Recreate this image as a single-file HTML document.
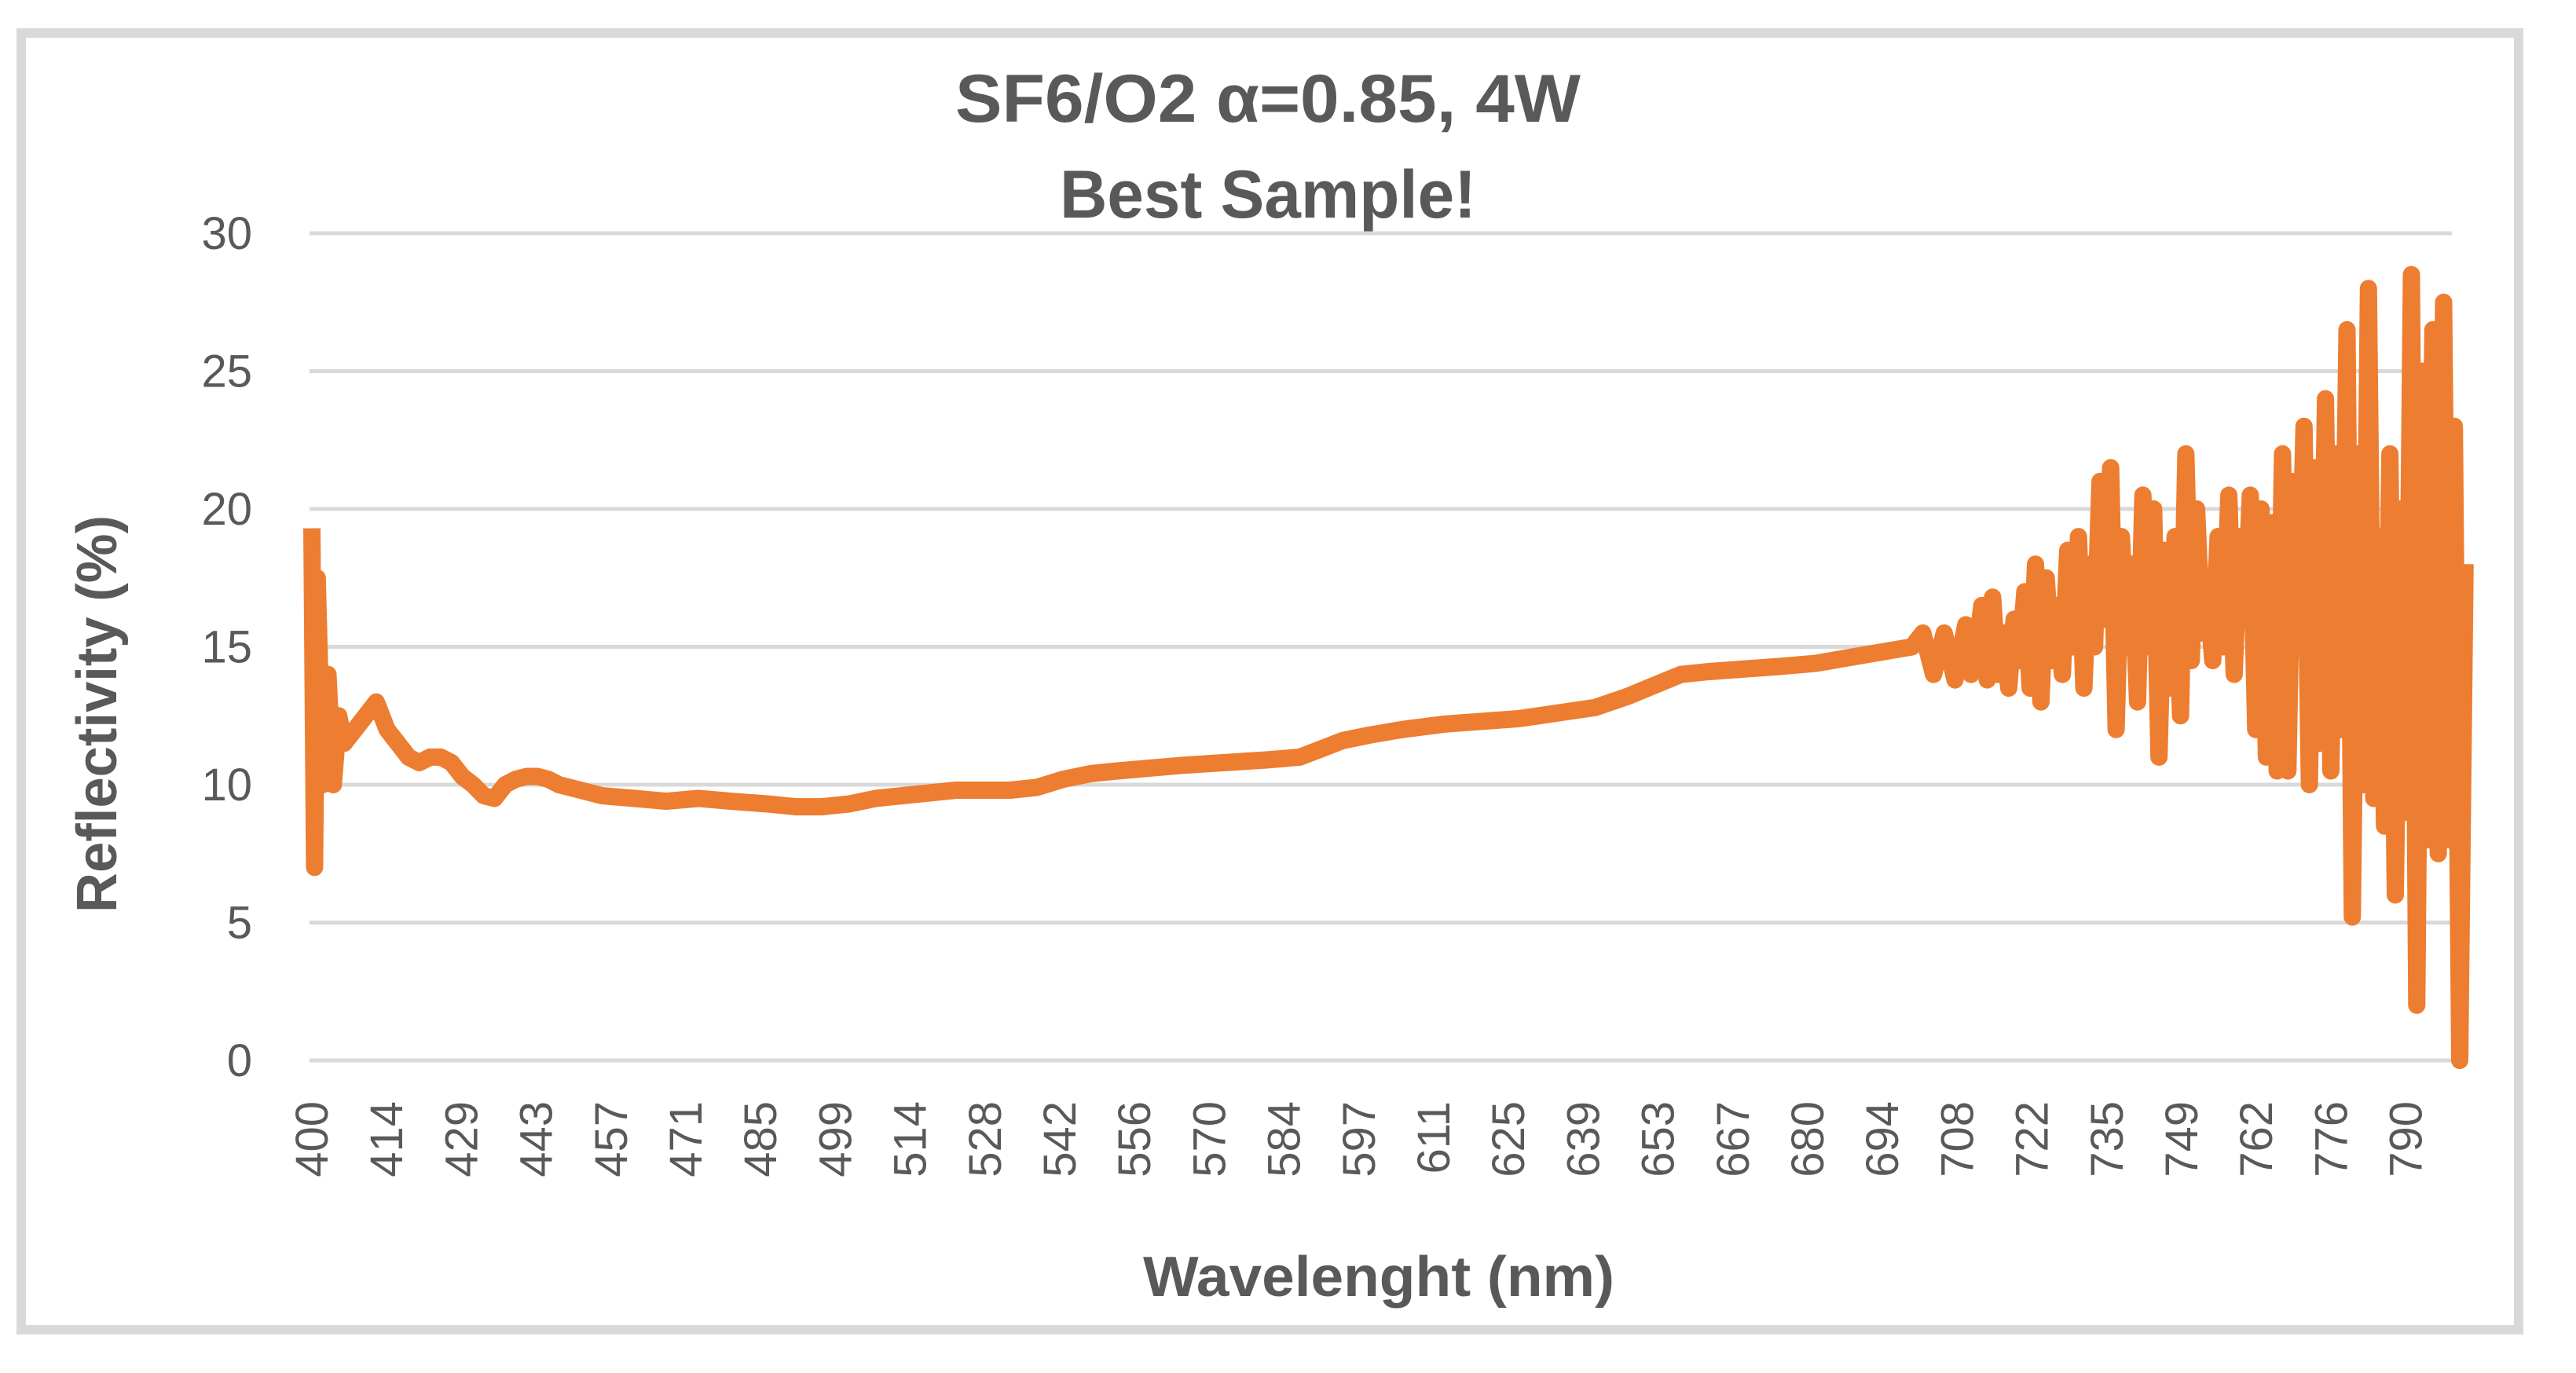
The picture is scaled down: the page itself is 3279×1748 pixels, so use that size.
<!DOCTYPE html>
<html><head><meta charset="utf-8"><style>
html,body{margin:0;padding:0;background:#fff;}
svg{display:block;}
text{font-family:"Liberation Sans",sans-serif;fill:#595959;}
</style></head><body>
<svg id="chart" width="3279" height="1748" viewBox="0 0 3279 1748" xmlns="http://www.w3.org/2000/svg">
<rect x="0" y="0" width="3279" height="1748" fill="#fff"/>
<rect x="27" y="42" width="3179" height="1651" fill="none" stroke="#D9D9D9" stroke-width="12"/>
<text x="1614" y="155" text-anchor="middle" font-size="86" font-weight="bold" textLength="796" lengthAdjust="spacingAndGlyphs">SF6/O2 α=0.85, 4W</text>
<text x="1614" y="277" text-anchor="middle" font-size="86" font-weight="bold" textLength="530" lengthAdjust="spacingAndGlyphs">Best Sample!</text>
<g id="grid"></g>
<g id="yticks"></g>
<g id="xticks"></g>
<path id="series" fill="none" stroke="#ED7D31" stroke-width="22" stroke-linejoin="round" stroke-linecap="butt"/>
<text transform="translate(148,909) rotate(-90)" text-anchor="middle" font-size="72" font-weight="bold" textLength="506" lengthAdjust="spacingAndGlyphs">Reflectivity (%)</text>
<text x="1755" y="1650" text-anchor="middle" font-size="72" font-weight="bold" textLength="600" lengthAdjust="spacingAndGlyphs">Wavelenght (nm)</text>
</svg>
<script>
const yTicks = [0, 5, 10, 15, 20, 25, 30];
const xTickLabels = ["400","414","429","443","457","471","485","499","514","528","542","556","570","584","597","611","625","639","653","667","680","694","708","722","735","749","762","776","790"];
const wavelengths = [400,400.5,401,402,403,404,405,406,408,410,412,414,416,418,420,422,424,426,428,430,432,434,436,438,440,442,444,446,450,454,460,466,472,478,485,490,495,500,505,510,515,520,530,535,540,545,550,556,562,570,578,584,588,592,597,603,611,618,625,632,639,645,650,655,660,667,674,680,686,692,698,700,702,704,706,708,709,710,711,712,713,714,715,716,717,718,719,720,721,722,723,724,725,726,727,728,729,730,731,732,733,734,735,736,737,738,739,740,741,742,743,744,745,746,747,748,749,750,751,752,753,754,755,756,757,758,759,760,761,762,763,764,765,766,767,768,769,770,771,772,773,774,775,776,777,778,779,780,781,782,783,784,785,786,787,788,789,790,791,792,793,794,795,796,797,798,799,800,801];
const reflectivity = [19.3,7,17.5,10,14,10,12.5,11.5,12,12.5,13,12,11.5,11,10.8,11,11,10.8,10.3,10,9.6,9.5,10,10.2,10.3,10.3,10.2,10,9.8,9.6,9.5,9.4,9.5,9.4,9.3,9.2,9.2,9.3,9.5,9.6,9.7,9.8,9.8,9.9,10.2,10.4,10.5,10.6,10.7,10.8,10.9,11,11.3,11.6,11.8,12,12.2,12.3,12.4,12.6,12.8,13.2,13.6,14,14.1,14.2,14.3,14.4,14.6,14.8,15,15.5,14,15.5,13.8,15.8,14,15,16.5,13.8,16.8,14,15.5,13.5,16,14.5,17,13.5,18,13,17.5,14.5,16.5,14,18.5,15,19,13.5,18,15,21,16,21.5,12,19,15,18,13,20.5,15,20,11,18.5,13.5,19,12.5,22,14.5,20,15.5,17,14.5,19,15,20.5,14,19,16,20.5,12,20,11,19.5,10.5,22,10.5,21,15,23,10,21.5,11.5,24,10.5,22,12,26.5,5.2,22,10,28,9.5,19,8.5,22,6,20,9,28.5,2,25,8,26.5,7.5,27.5,8,23,0,18];

const NS = "http://www.w3.org/2000/svg";
const X0 = 397, PXPERNM = 6.835, Y0 = 1350, PXPERUNIT = (1350 - 297) / 30;
function xScale(wl){ return X0 + (wl - 400) * PXPERNM; }
function yScale(v){ return Y0 - v * PXPERUNIT; }

const grid = document.getElementById('grid');
const yt = document.getElementById('yticks');
yTicks.forEach(function(v){
  const l = document.createElementNS(NS, 'line');
  l.setAttribute('x1', 394); l.setAttribute('x2', 3121);
  l.setAttribute('y1', yScale(v)); l.setAttribute('y2', yScale(v));
  l.setAttribute('stroke', '#D9D9D9'); l.setAttribute('stroke-width', 5);
  
  
  grid.appendChild(l);
  const t = document.createElementNS(NS, 'text');
  t.setAttribute('x', 321); t.setAttribute('y', yScale(v) + 20);
  t.setAttribute('text-anchor', 'end'); t.setAttribute('font-size', '58');
  t.textContent = v;
  
  
  yt.appendChild(t);
});

const xt = document.getElementById('xticks');
xTickLabels.forEach(function(lab, i){
  const wl = 400 + i * (390 / 28);
  const x = xScale(wl);
  const t = document.createElementNS(NS, 'text');
  t.setAttribute('transform', 'translate(' + (x + 20) + ',1402) rotate(-90)');
  t.setAttribute('text-anchor', 'end'); t.setAttribute('font-size', '58');
  t.textContent = lab;
  
  
  xt.appendChild(t);
});

let d = '';
wavelengths.forEach(function(wl, i){
  d += (i ? 'L' : 'M') + xScale(wl).toFixed(1) + ' ' + yScale(reflectivity[i]).toFixed(1) + ' ';
});
document.getElementById('series').setAttribute('d', d);
</script>
</body></html>
